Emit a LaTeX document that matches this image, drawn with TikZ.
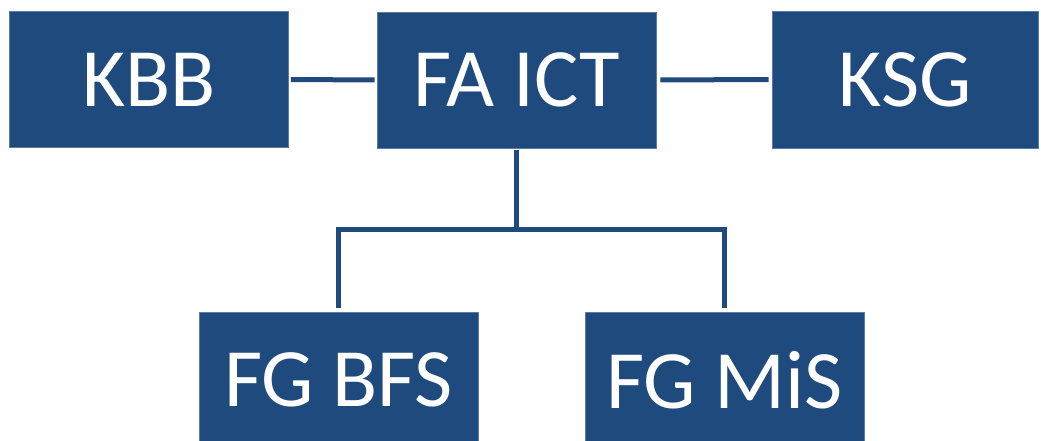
\documentclass[tikz,border=0pt]{standalone}
\usepackage{fontspec}
\setmainfont{Carlito}
\definecolor{boxblue}{HTML}{1F4A7D}
\definecolor{edgeblue}{HTML}{5A7BA6}
\tikzset{
  orgbox/.style={rectangle, fill=boxblue, draw=edgeblue, line width=0.6pt, inner sep=0pt,
    minimum width=279pt, minimum height=136pt, text=white, font=\fontsize{83}{90}\selectfont},
  conn/.style={draw=boxblue, line width=5pt, line join=miter}
}
\begin{document}
\begin{tikzpicture}[x=1pt,y=-1pt]
\useasboundingbox (0,0) rectangle (1041,441);
\clip (0,0) rectangle (1041,441);
\node[orgbox] (kbb) at (149,79.5) {KBB};
\node[orgbox] (fa) at (516.5,80) {FA ICT};
\node[orgbox, minimum width=266pt, minimum height=137pt] (ksg) at (905,79.5) {KSG};
\node[orgbox] (bfs) at (338.5,380) {FG BFS};
\node[orgbox, minimum width=278.5pt] (mis) at (724.7,380) {FG MiS};
\coordinate (j) at (516.5,229);
\draw[conn, shorten <=2pt, shorten >=2pt] (kbb.east) -- (fa.west);
\draw[conn, shorten <=4pt, shorten >=3pt] (fa.east) -- (ksg.west);
\draw[conn] ([yshift=-2pt]fa.south) -- (j);
\draw[conn] ([yshift=4pt]bfs.north) |- (j) -| ([yshift=4pt]mis.north);
\end{tikzpicture}
\end{document}
